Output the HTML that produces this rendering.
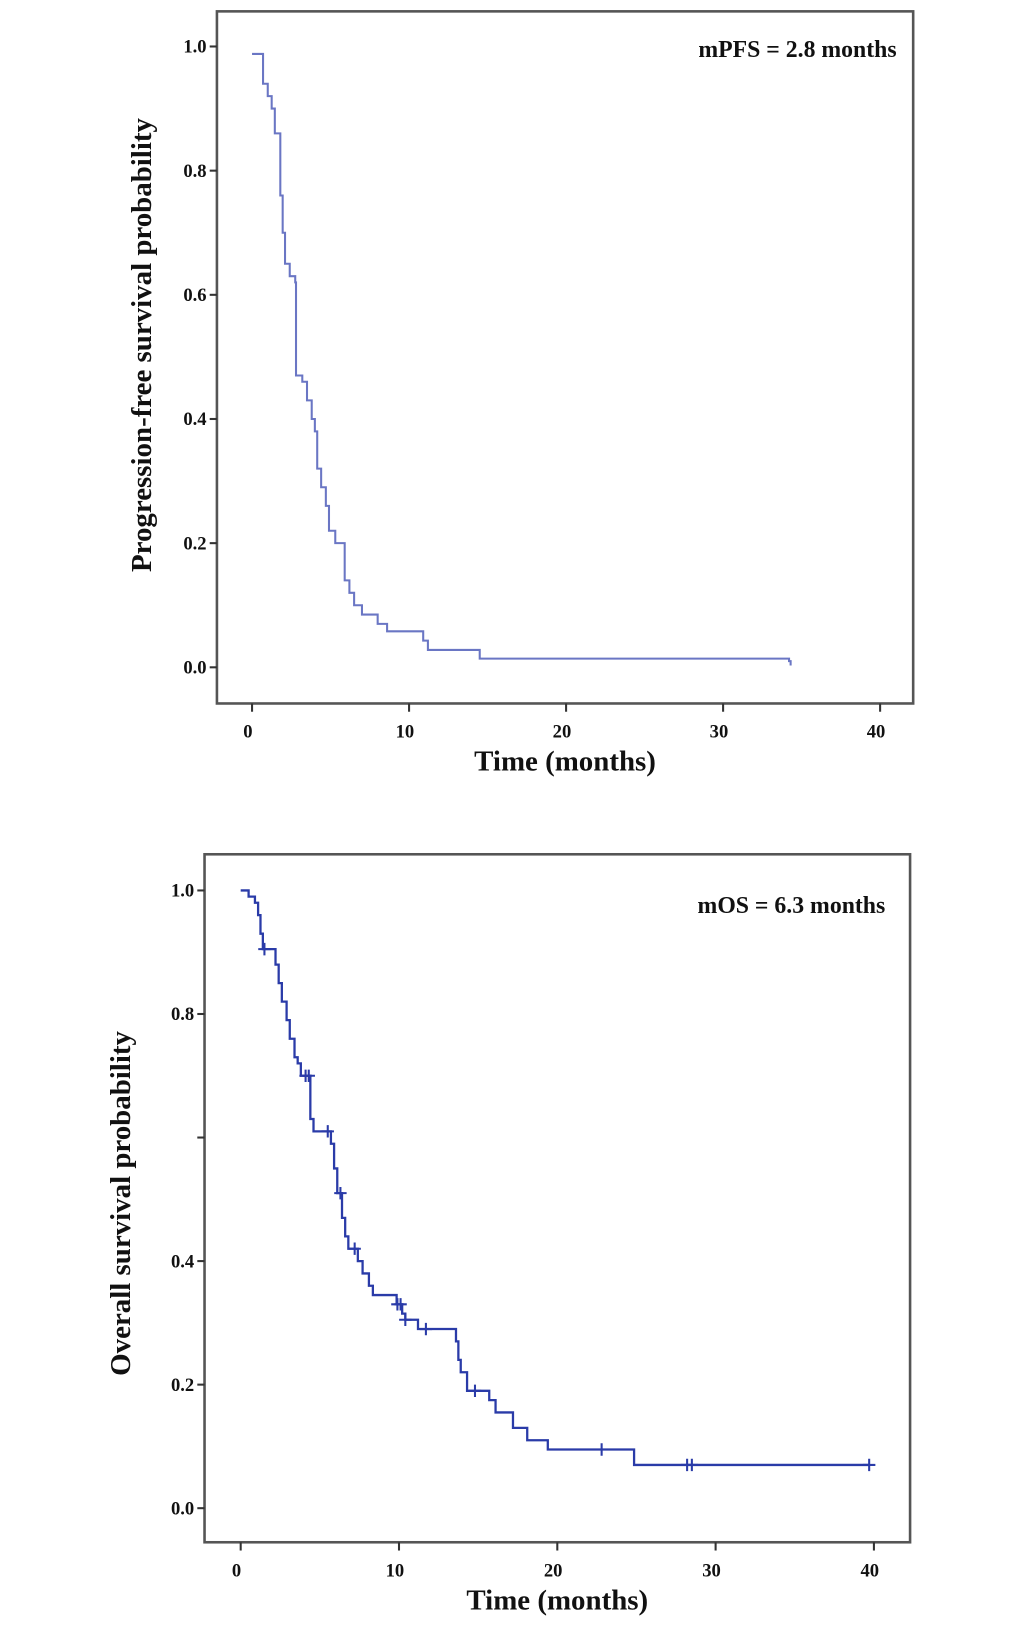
<!DOCTYPE html>
<html><head><meta charset="utf-8">
<style>
html,body{margin:0;padding:0;background:#fff;}
svg{display:block;}
text{font-family:"Liberation Serif",serif;font-weight:bold;fill:#111;}
</style></head>
<body>
<svg width="1033" height="1626" viewBox="0 0 1033 1626">
<g transform="scale(1.033)">
<g id="top"></g>
<g id="bot"></g>
</g>
</svg>
<script>
// PFS data
const pfsTimes = [0, 0.7, 1.0, 1.25, 1.45, 1.8, 1.95, 2.1, 2.4, 2.75, 2.8, 3.2, 3.5, 3.8, 4.0, 4.15, 4.4, 4.7, 4.9, 5.3, 5.9, 6.2, 6.5, 7.0, 8.0, 8.6, 10.9, 11.2, 14.5, 34.2, 34.3];
const pfsSurv  = [0.988, 0.94, 0.92, 0.90, 0.86, 0.76, 0.70, 0.65, 0.63, 0.62, 0.47, 0.46, 0.43, 0.40, 0.38, 0.32, 0.29, 0.26, 0.22, 0.20, 0.14, 0.12, 0.10, 0.085, 0.07, 0.058, 0.043, 0.028, 0.014, 0.010, 0.003];
// OS data
const osTimes = [0, 0.5, 0.9, 1.1, 1.25, 1.4, 2.2, 2.4, 2.6, 2.9, 3.1, 3.4, 3.6, 3.8, 4.4, 4.6, 5.7, 5.9, 6.1, 6.4, 6.6, 6.8, 7.4, 7.7, 8.1, 8.35, 9.85, 10.2, 10.4, 11.2, 13.6, 13.75, 13.9, 14.3, 15.7, 16.1, 17.2, 18.1, 19.4, 24.85, 39.7];
const osSurv  = [1.0, 0.99, 0.98, 0.96, 0.93, 0.905, 0.88, 0.85, 0.82, 0.79, 0.76, 0.73, 0.72, 0.70, 0.63, 0.61, 0.59, 0.55, 0.51, 0.47, 0.44, 0.42, 0.40, 0.38, 0.36, 0.345, 0.33, 0.315, 0.305, 0.29, 0.27, 0.24, 0.22, 0.19, 0.175, 0.155, 0.13, 0.11, 0.095, 0.07, 0.07];
const osCensor = [1.5, 4.1, 4.3, 5.5, 6.3, 7.2, 9.9, 10.1, 10.4, 11.7, 14.8, 22.8, 28.2, 28.5, 39.7];
const xTicks = [0, 10, 20, 30, 40];
const xTickLabels = ["0", "10", "20", "30", "40"];
const pfsYTicks = [0, 0.2, 0.4, 0.6, 0.8, 1.0];
const pfsYLabels = ["0.0", "0.2", "0.4", "0.6", "0.8", "1.0"];
const osYTicks = [0, 0.2, 0.4, 0.6, 0.8, 1.0];
const osYLabels = ["0.0", "0.2", "0.4", "", "0.8", "1.0"];

const NS = "http://www.w3.org/2000/svg";
function mk(parent, tag, attrs, txt){
  const e = document.createElementNS(NS, tag);
  for (const k in attrs) e.setAttribute(k, attrs[k]);
  if (txt !== undefined) e.textContent = txt;
  parent.appendChild(e);
  return e;
}

function drawChart(g, cfg, times, surv, censor, yTicks, yLabels, ann, ytitle){
  const sx = t => cfg.x0 + t * (cfg.x40 - cfg.x0) / 40;
  const sy = s => cfg.y0 - s * (cfg.y0 - cfg.y1);
  const frame = mk(g, 'rect', {x:cfg.fl, y:cfg.ft, width:cfg.fr-cfg.fl, height:cfg.fb-cfg.ft, fill:'none', stroke:'#555', 'stroke-width':2.5});
  
  
  yTicks.forEach((v,i)=>{
    const y = sy(v);
    const tk = mk(g,'line',{x1:cfg.fl-7,x2:cfg.fl,y1:y,y2:y,stroke:'#333','stroke-width':2});
    
    
    if (yLabels[i]) {
      const tl = mk(g,'text',{x:cfg.fl-10,y:y+6,'text-anchor':'end','font-size':18},yLabels[i]);
      
      
    }
  });
  xTicks.forEach((v,i)=>{
    const x = sx(v);
    const tk = mk(g,'line',{x1:x,x2:x,y1:cfg.fb,y2:cfg.fb+8,stroke:'#333','stroke-width':2});
    
    
    const tl = mk(g,'text',{x:x-4,y:cfg.fb+33,'text-anchor':'middle','font-size':18},xTickLabels[i]);
    
    
  });
  let d = 'M' + sx(times[0]) + ' ' + sy(surv[0]);
  for (let i=1;i<times.length;i++){
    d += ' H' + sx(times[i]) + ' V' + sy(surv[i]);
  }
  const p = mk(g,'path',{d:d,fill:'none',stroke:cfg.color,'stroke-width':cfg.sw});
  
  
  censor.forEach(t=>{
    let s = surv[0];
    for (let i=0;i<times.length;i++){ if (times[i] <= t) s = surv[i]; }
    const x = sx(t), y = sy(s);
    const c = mk(g,'path',{d:`M${x-6} ${y} H${x+6} M${x} ${y-6} V${y+6}`,stroke:cfg.color,'stroke-width':2});
    
    
  });
  const a = mk(g,'text',{x:cfg.annX,y:cfg.annY,'text-anchor':'end','font-size':23},ann);
  
  
  const xt = mk(g,'text',{x:(cfg.fl+cfg.fr)/2,y:cfg.fb+65,'text-anchor':'middle','font-size':28},'Time (months)');
  
  
  const yt = mk(g,'text',{x:0,y:0,'text-anchor':'middle','font-size':28,transform:`translate(${cfg.ytX},${cfg.ytY}) rotate(-90)`},ytitle);
  
  
}

drawChart(document.getElementById('top'),
  {fl:210,fr:884,ft:11,fb:681,x0:244,x40:852,y0:646,y1:45,color:'#6a76c4',sw:2,annX:868,annY:55,ytX:146,ytY:334},
  pfsTimes, pfsSurv, [], pfsYTicks, pfsYLabels, 'mPFS = 2.8 months', 'Progression-free  survival probability');
drawChart(document.getElementById('bot'),
  {fl:198,fr:881,ft:827,fb:1493,x0:233,x40:846,y0:1460,y1:862,color:'#2a3ba8',sw:2.2,annX:857,annY:884,ytX:126,ytY:1165},
  osTimes, osSurv, osCensor, osYTicks, osYLabels, 'mOS = 6.3 months', 'Overall survival probability');
</script>
</body></html>
